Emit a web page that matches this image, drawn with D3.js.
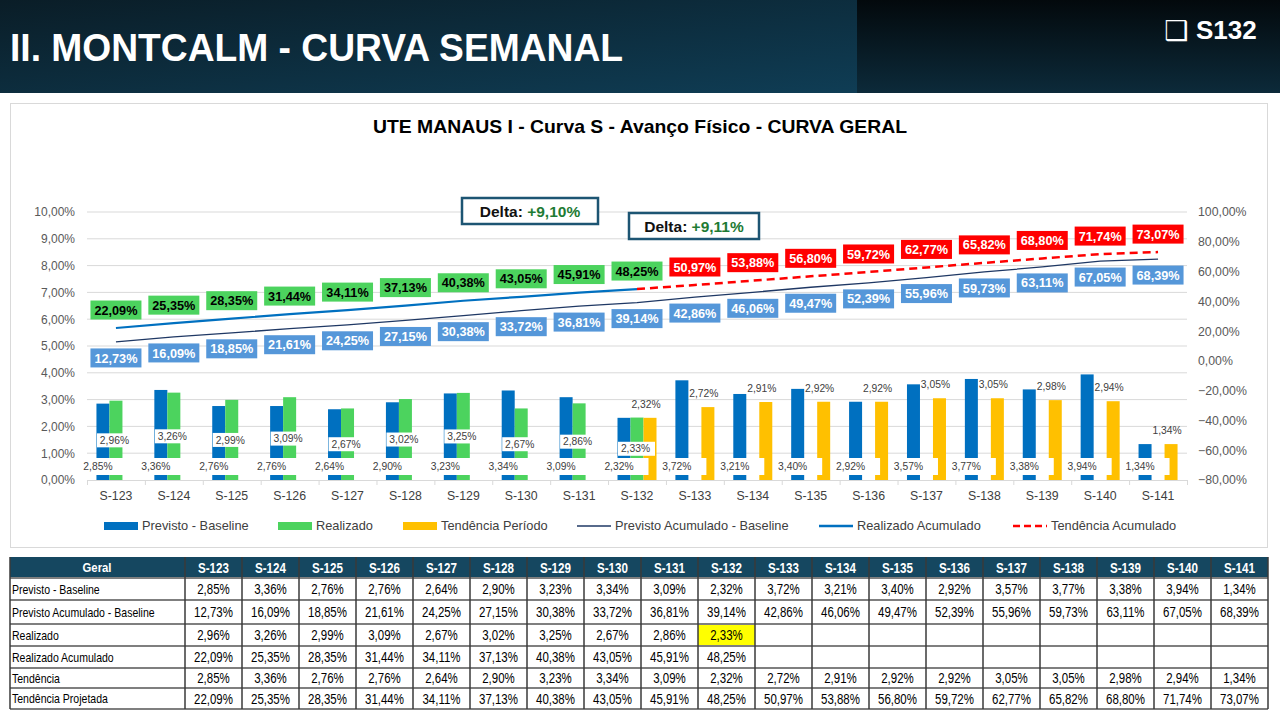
<!DOCTYPE html>
<html><head><meta charset="utf-8">
<script src="https://cdn.jsdelivr.net/npm/d3@7"></script>
<style>
html,body{margin:0;padding:0;background:#fff;}
svg{display:block;}
</style></head>
<body>
<svg id="c" width="1280" height="720"></svg>
<script>
// ---------------- DATA ----------------
const weeks = ["S-123","S-124","S-125","S-126","S-127","S-128","S-129","S-130","S-131","S-132","S-133","S-134","S-135","S-136","S-137","S-138","S-139","S-140","S-141"];
const previsto = [2.85,3.36,2.76,2.76,2.64,2.90,3.23,3.34,3.09,2.32,3.72,3.21,3.40,2.92,3.57,3.77,3.38,3.94,1.34];
const previstoAcum = [12.73,16.09,18.85,21.61,24.25,27.15,30.38,33.72,36.81,39.14,42.86,46.06,49.47,52.39,55.96,59.73,63.11,67.05,68.39];
const realizado = [2.96,3.26,2.99,3.09,2.67,3.02,3.25,2.67,2.86,2.33,null,null,null,null,null,null,null,null,null];
const realizadoAcum = [22.09,25.35,28.35,31.44,34.11,37.13,40.38,43.05,45.91,48.25,null,null,null,null,null,null,null,null,null];
const tendencia = [2.85,3.36,2.76,2.76,2.64,2.90,3.23,3.34,3.09,2.32,2.72,2.91,2.92,2.92,3.05,3.05,2.98,2.94,1.34];
const tendenciaProj = [22.09,25.35,28.35,31.44,34.11,37.13,40.38,43.05,45.91,48.25,50.97,53.88,56.80,59.72,62.77,65.82,68.80,71.74,73.07];
const tendenciaPeriodo = [null,null,null,null,null,null,null,null,null,2.32,2.72,2.91,2.92,2.92,3.05,3.05,2.98,2.94,1.34];
const tendenciaAcum = [null,null,null,null,null,null,null,null,null,48.25,50.97,53.88,56.80,59.72,62.77,65.82,68.80,71.74,73.07];
const leftTicks = [0,1,2,3,4,5,6,7,8,9,10];
const rightTicks = [-80,-60,-40,-20,0,20,40,60,80,100];
const deltas = [{label:"Delta:", value:"+9,10%"},{label:"Delta:", value:"+9,11%"}];
const pageTitle = "II. MONTCALM - CURVA SEMANAL";
const weekTag = "S132";
const chartTitle = "UTE MANAUS I - Curva S - Avanço Físico - CURVA GERAL";
const legendItems = [
  {name:"Previsto - Baseline", type:"rect", color:"#0070C0"},
  {name:"Realizado", type:"rect", color:"#4CD35E"},
  {name:"Tendência Período", type:"rect", color:"#FFC000"},
  {name:"Previsto Acumulado - Baseline", type:"line", color:"#1F3864"},
  {name:"Realizado Acumulado", type:"line", color:"#0070C0"},
  {name:"Tendência Acumulado", type:"dash", color:"#FF0000"}
];

// ---------------- HELPERS ----------------
const pct = v => d3.format(".2f")(v).replace(".", ",") + "%";
const FONT = "'Liberation Sans', Arial, sans-serif";
const svg = d3.select("#c");
const defs = svg.append("defs");

// ---------------- HEADER ----------------
const g1 = defs.append("linearGradient").attr("id","hdrL").attr("x1","0").attr("y1","0").attr("x2","1").attr("y2","1");
g1.append("stop").attr("offset","0").attr("stop-color","#0a1d27");
g1.append("stop").attr("offset","1").attr("stop-color","#0f3d55");
const g2 = defs.append("linearGradient").attr("id","hdrR").attr("x1","0").attr("y1","0").attr("x2","0").attr("y2","1");
g2.append("stop").attr("offset","0").attr("stop-color","#03090c");
g2.append("stop").attr("offset","1").attr("stop-color","#0c2a3a");
svg.append("rect").attr("x",0).attr("y",0).attr("width",857).attr("height",93).attr("fill","url(#hdrL)");
svg.append("rect").attr("x",857).attr("y",0).attr("width",423).attr("height",93).attr("fill","url(#hdrR)");
svg.append("text").attr("x",10).attr("y",61).attr("fill","#fff")
  .attr("font-family",FONT).attr("font-weight","bold").attr("font-size",39)
  .attr("textLength",613).attr("lengthAdjust","spacingAndGlyphs").text(pageTitle);
svg.append("text").attr("x",1164).attr("y",40).attr("fill","#fff")
  .attr("font-family","'DejaVu Sans', sans-serif").attr("font-size",27).text("❑");
svg.append("text").attr("x",1196).attr("y",39).attr("fill","#fff")
  .attr("font-family",FONT).attr("font-weight","bold").attr("font-size",26).text(weekTag);

// ---------------- CHART FRAME ----------------
svg.append("rect").attr("x",10.5).attr("y",103.5).attr("width",1257).attr("height",444)
  .attr("fill","#fff").attr("stroke","#D9D9D9").attr("stroke-width",1);
svg.append("text").attr("x",640).attr("y",133).attr("text-anchor","middle")
  .attr("font-family",FONT).attr("font-weight","bold").attr("font-size",18.5)
  .attr("textLength",534).attr("lengthAdjust","spacingAndGlyphs").attr("fill","#000").text(chartTitle);

// ---------------- SCALES ----------------
const x = d3.scaleBand().domain(weeks).range([87,1187]).padding(0);
const bw = x.bandwidth();
const sub = d3.scaleBand().domain(["prev","real","tend"]).range([(bw-39)/2,(bw+39)/2]);
const yL = d3.scaleLinear().domain([0,10]).range([480,212]);
const yR = d3.scaleLinear().domain([-80,100]).range([480,212]);
const cx = i => x(weeks[i]) + bw/2;

// gridlines
svg.append("g").selectAll("line").data(leftTicks.slice(1)).join("line")
  .attr("x1",87).attr("x2",1187).attr("y1",d=>yL(d)).attr("y2",d=>yL(d))
  .attr("stroke","#D9D9D9").attr("stroke-width",1);

// left axis
const axL = svg.append("g").attr("transform","translate(87,0)")
  .call(d3.axisLeft(yL).tickValues(leftTicks).tickSize(0).tickPadding(12).tickFormat(pct));
axL.select(".domain").remove();
axL.selectAll("text").attr("font-family",FONT).attr("font-size",12).attr("fill","#595959");
// right axis
const axR = svg.append("g").attr("transform","translate(1187,0)")
  .call(d3.axisRight(yR).tickValues(rightTicks).tickSize(0).tickPadding(11).tickFormat(pct));
axR.select(".domain").remove();
axR.selectAll("text").attr("font-family",FONT).attr("font-size",12.3).attr("fill","#595959");
// x axis
const axX = svg.append("g").attr("transform","translate(0,480)")
  .call(d3.axisBottom(x).tickSize(0).tickPadding(11));
axX.select(".domain").attr("stroke","#D9D9D9");
axX.selectAll("text").attr("font-family",FONT).attr("font-size",12.3).attr("fill","#404040");
svg.append("g").selectAll("line").data(weeks.concat(["__end"])).join("line")
  .attr("x1",(d,i)=>87+i*bw+0.5).attr("x2",(d,i)=>87+i*bw+0.5)
  .attr("y1",480).attr("y2",485).attr("stroke","#D9D9D9");

// ---------------- BARS ----------------
const bars = svg.append("g");
function drawBars(arr, key, color){
  bars.selectAll("rect."+key).data(arr.map((v,i)=>({v,i})).filter(d=>d.v!=null)).join("rect")
    .attr("class",key)
    .attr("x",d=>x(weeks[d.i])+sub(key)).attr("width",sub.bandwidth())
    .attr("y",d=>yL(d.v)).attr("height",d=>yL(0)-yL(d.v)).attr("fill",color);
}
drawBars(previsto,"prev","#0070C0");
drawBars(realizado,"real","#4CD35E");
drawBars(tendenciaPeriodo,"tend","#FFC000");

// bar labels
const bl = svg.append("g").attr("font-family",FONT).attr("font-size",10.3).attr("fill","#404040");
previsto.forEach((v,i)=>{
  const bc = x(weeks[i]) + sub("prev") + sub.bandwidth()/2;
  bl.append("rect").attr("x",bc-24.5).attr("y",yL(0)-22).attr("width",49).attr("height",17).attr("fill","#fff");
  bl.append("text").attr("x",bc-5).attr("y",yL(0)-13.5).attr("dy","0.35em").attr("text-anchor","middle").text(pct(v));
});
realizado.forEach((v,i)=>{
  if(v==null) return;
  const bc = x(weeks[i]) + sub("real") + sub.bandwidth()/2;
  const my = (yL(v)+yL(0))/2;
  bl.append("rect").attr("x",bc-19).attr("y",my-7).attr("width",37).attr("height",14).attr("fill","#fff");
  bl.append("text").attr("x",bc-1.5).attr("y",my).attr("dy","0.35em").attr("text-anchor","middle").text(pct(v));
});
tendenciaPeriodo.forEach((v,i)=>{
  if(v==null) return;
  const bc = x(weeks[i]) + sub("tend") + sub.bandwidth()/2;
  bl.append("text").attr("x",bc-4).attr("y",yL(v)-13.5).attr("dy","0.35em").attr("text-anchor","middle").text(pct(v));
});

// ---------------- LINES ----------------
const line = d3.line().defined(d=>d.v!=null).x(d=>cx(d.i)).y(d=>yR(d.v));
const toPts = arr => arr.map((v,i)=>({v,i}));
svg.append("path").attr("d",line(toPts(previstoAcum))).attr("fill","none").attr("stroke","#1F3864").attr("stroke-width",1.3);
svg.append("path").attr("d",line(toPts(realizadoAcum))).attr("fill","none").attr("stroke","#0070C0").attr("stroke-width",2.2);
svg.append("path").attr("d",line(toPts(tendenciaAcum))).attr("fill","none").attr("stroke","#FF0000").attr("stroke-width",2.5).attr("stroke-dasharray","8,5");

// line labels
const ll = svg.append("g").attr("font-family",FONT).attr("font-weight","bold").attr("font-size",12.7);
function lineLabels(arr, filt, off, bg, fg){
  arr.forEach((v,i)=>{
    if(v==null || !filt(i)) return;
    const yy = yR(v)+off;
    ll.append("rect").attr("x",cx(i)-25.5).attr("y",yy-9.5).attr("width",51).attr("height",19).attr("fill",bg);
    ll.append("text").attr("x",cx(i)).attr("y",yy).attr("dy","0.36em").attr("text-anchor","middle").attr("fill",fg).text(pct(v));
  });
}
lineLabels(previstoAcum, ()=>true, 16, "#5597D9", "#fff");
lineLabels(realizadoAcum, ()=>true, -18, "#4CD35E", "#000");
lineLabels(tendenciaAcum, i=>i>=10, -18, "#FF0000", "#fff");

// ---------------- DELTA BOXES ----------------
const dbox = [{x:462,y:198,w:136,h:26},{x:629,y:213,w:130,h:26}];
deltas.forEach((d,k)=>{
  const b = dbox[k];
  svg.append("rect").attr("x",b.x).attr("y",b.y).attr("width",b.w).attr("height",b.h)
    .attr("fill","#fff").attr("stroke","#1D5573").attr("stroke-width",2.5);
  const t = svg.append("text").attr("x",b.x+b.w/2).attr("y",b.y+b.h/2).attr("dy","0.36em")
    .attr("text-anchor","middle").attr("font-family",FONT).attr("font-weight","bold").attr("font-size",15.5);
  t.append("tspan").attr("fill","#111").text(d.label+(k===0?"  ":" "));
  t.append("tspan").attr("fill","#1E7B34").text(d.value);
});

// ---------------- LEGEND ----------------
const legX = [104,278,403,577,819,1013];
const lg = svg.append("g").attr("font-family",FONT).attr("font-size",12.8).attr("fill","#404040");
legendItems.forEach((d,i)=>{
  const lx = legX[i], ly = 526;
  if(d.type==="rect") lg.append("rect").attr("x",lx).attr("y",ly-4).attr("width",34).attr("height",8).attr("fill",d.color);
  else lg.append("line").attr("x1",lx).attr("x2",lx+34).attr("y1",ly).attr("y2",ly).attr("stroke",d.color)
      .attr("stroke-width",d.type==="line"?(i===3?1.3:2.5):2.5).attr("stroke-dasharray",d.type==="dash"?"7,4":null);
  lg.append("text").attr("x",lx+38).attr("y",ly).attr("dy","0.35em").text(d.name);
});

// ---------------- TABLE ----------------
const rows = [
  ["Previsto - Baseline", previsto],
  ["Previsto Acumulado - Baseline", previstoAcum],
  ["Realizado", realizado],
  ["Realizado Acumulado", realizadoAcum],
  ["Tendência", tendencia],
  ["Tendência Projetada", tendenciaProj]
];
const rowY = [578,600,624,646,668,688,709];
const tx = d3.scaleBand().domain(weeks).range([185,1268]);
const tb = svg.append("g");
function tText(xp, yp, txt, opt){
  const g = tb.append("g").attr("transform",`translate(${xp},${yp}) scale(${opt.sx},1)`);
  g.append("text").attr("x",0).attr("y",0).attr("dy","0.36em").attr("text-anchor",opt.anchor)
    .attr("font-family",FONT).attr("font-weight",opt.bold?"bold":"normal").attr("font-size",opt.size)
    .attr("fill",opt.fill).text(txt);
}
tb.append("rect").attr("x",10).attr("y",557).attr("width",1258).attr("height",21).attr("fill","#154760");
tText(97,567.5,"Geral",{sx:0.84,anchor:"middle",bold:true,size:13.5,fill:"#fff"});
weeks.forEach(w=>tText(tx(w)+tx.bandwidth()/2,567.5,w,{sx:0.83,anchor:"middle",bold:true,size:14,fill:"#fff"}));
// highlight
tb.append("rect").attr("x",tx("S-132")).attr("y",rowY[2]).attr("width",tx.bandwidth()).attr("height",rowY[3]-rowY[2]).attr("fill","#FFFF00");
rows.forEach((r,k)=>{
  const ym = (rowY[k]+rowY[k+1])/2;
  tText(12,ym,r[0],{sx:0.81,anchor:"start",bold:false,size:13,fill:"#000"});
  r[1].forEach((v,i)=>{
    if(v==null) return;
    tText(tx(weeks[i])+tx.bandwidth()/2,ym,pct(v),{sx:0.82,anchor:"middle",bold:false,size:14,fill:"#000"});
  });
});
// horizontal lines
tb.selectAll("line.h").data(rowY).join("line").attr("class","h")
  .attr("x1",10).attr("x2",1268).attr("y1",d=>d).attr("y2",d=>d).attr("stroke","#7f7f7f").attr("stroke-width",2);
// vertical lines
const vx = [10,185].concat(weeks.map(w=>tx(w)+tx.bandwidth()));
tb.selectAll("line.v").data(vx).join("line").attr("class","v")
  .attr("x1",d=>d).attr("x2",d=>d).attr("y1",557).attr("y2",709).attr("stroke","#3a3a3a").attr("stroke-width",1.5);
</script>
</body></html>
